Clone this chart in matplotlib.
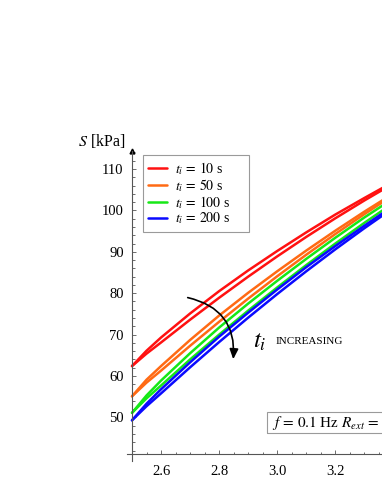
import matplotlib
matplotlib.use("Agg")
import matplotlib.pyplot as plt
from matplotlib.patches import FancyArrowPatch, Rectangle

plt.rcParams['font.family'] = ['Liberation Serif', 'DejaVu Serif']
plt.rcParams['mathtext.fontset'] = 'stix'

# x values shared by all branches
x = [2.5, 2.55, 2.6, 2.7, 2.8, 2.9, 3.0, 3.1, 3.2, 3.3, 3.4]

# each loop: upper and lower branch (kPa)
red_up = [62.4, 66.1, 69.3, 75.1, 80.5, 85.5, 90.2, 94.7, 99.0, 103.0, 106.9]
red_lo = [62.4, 65.4, 68.1, 73.6, 78.9, 84.0, 88.9, 93.6, 98.1, 102.4, 106.5]
orange_up = [55.1, 59.1, 62.4, 68.7, 74.6, 80.1, 85.3, 90.3, 95.1, 99.7, 104.1]
orange_lo = [55.1, 58.4, 61.3, 67.3, 73.1, 78.7, 84.1, 89.3, 94.3, 99.1, 103.7]
green_up = [51.1, 55.3, 58.9, 65.5, 71.7, 77.5, 83.0, 88.3, 93.4, 98.3, 102.9]
green_lo = [51.1, 54.6, 57.7, 64.0, 70.0, 75.8, 81.4, 86.8, 92.0, 97.0, 101.8]
blue_up = [49.3, 53.3, 56.8, 63.3, 69.5, 75.3, 80.9, 86.3, 91.4, 96.3, 101.1]
blue_lo = [49.3, 52.7, 55.8, 62.1, 68.2, 74.1, 79.8, 85.3, 90.6, 95.7, 100.6]

labels = [r"$t_i\,=\,10$ s", r"$t_i\,=\,50$ s", r"$t_i\,=\,100$ s", r"$t_i\,=\,200$ s"]
colors = ["#ff1111", "#ff6a14", "#16e816", "#0a0aff"]
loops = [(red_up, red_lo), (orange_up, orange_lo), (green_up, green_lo), (blue_up, blue_lo)]

xticks = [2.6, 2.8, 3.0, 3.2, 3.4]
yticks = [50, 60, 70, 80, 90, 100, 110]

W, H = 382, 494
fig = plt.figure(figsize=(W / 100, H / 100), dpi=100)

# axes placed in pixels so that the right part runs off the canvas
px_per_x = 290.5  # pixels per unit of x
px_per_y = 4.14   # pixels per kPa
x0, x1 = 2.47, 3.5
y0, y1 = 39.0, 116.0
left_px = 132 - (2.5 - x0) * px_per_x
top_px = 169 - (y1 - 110) * px_per_y
ax = fig.add_axes([left_px / W,
                   1 - (top_px + (y1 - y0) * px_per_y) / H,
                   (x1 - x0) * px_per_x / W,
                   (y1 - y0) * px_per_y / H])
ax.set_xlim(x0, x1)
ax.set_ylim(y0, y1)

for (up, lo), c, lab in zip(loops, colors, labels):
    ax.plot(x, up, color=c, lw=1.8, label=lab, solid_capstyle='round', solid_joinstyle='round')
    ax.plot(x, lo, color=c, lw=1.8, solid_capstyle='round', solid_joinstyle='round')

# Mathematica-like axes crossing at (2.5, 41.1)
for s in ['top', 'right']:
    ax.spines[s].set_visible(False)
ax.spines['left'].set_position(('data', 2.5))
ax.spines['bottom'].set_position(('data', 41.1))
ax.spines['left'].set_bounds(39.5, 114.3)
ax.spines['bottom'].set_bounds(2.484, 3.5)
for s in ['left', 'bottom']:
    ax.spines[s].set_color('#555555')
    ax.spines[s].set_linewidth(0.8)
ax.plot([2.5], [114.3], marker='^', color='black', ms=3.5, clip_on=False)

ax.set_xticks(xticks)
ax.set_xticklabels([f"{v:.1f}" for v in xticks])
ax.set_yticks(yticks)
ax.set_xticks([v / 100 for v in range(250, 351, 5)], minor=True)
ax.set_yticks(list(range(42, 115, 2)), minor=True)
ax.tick_params(which='both', direction='in', color='#555555', width=0.6)
ax.tick_params(which='major', length=3.0, labelsize=10.5)
ax.tick_params(axis='x', which='major', pad=8)
ax.tick_params(axis='y', which='major', pad=6)
ax.tick_params(which='minor', length=1.8)

fig.text(102 / W, 1 - 141 / H, "$S$ [kPa]", fontsize=11.5, ha='center', va='center')

# legend box fixed to the reference frame (143..249 px wide, top at 155 px)
leg = ax.legend(loc='upper left', bbox_to_anchor=(143 / W, 1 - 230 / H, 106 / W, 75 / H),
                bbox_transform=fig.transFigure, borderaxespad=0, mode='expand',
                fancybox=False, framealpha=1, edgecolor='#9a9a9a',
                fontsize=10, handlelength=1.35, handletextpad=0.55,
                labelspacing=0.0, borderpad=0.38)
leg.get_frame().set_linewidth(0.8)

# curved arrow "t_i increasing"
arr = FancyArrowPatch((185 / W, 1 - 297 / H), (233 / W, 1 - 362 / H),
                      transform=fig.transFigure,
                      connectionstyle="arc3,rad=-0.45",
                      arrowstyle="-|>,head_length=6,head_width=2.6",
                      color='black', lw=1.2, zorder=5)
fig.patches.append(arr)
fig.text(260 / W, 1 - 342 / H, "$t_i$", fontsize=18, ha='center', va='center')
fig.text(276 / W, 1 - 342 / H, "INCREASING", fontsize=8, ha='left', va='center')

# parameter box, cut by the right edge
fig.patches.append(Rectangle((267 / W, 1 - 433 / H), 200 / W, 21 / H,
                             transform=fig.transFigure, fill=False,
                             edgecolor='#9a9a9a', lw=0.8))
fig.text(272 / W, 1 - 423 / H, r"$f\,=\,0.1$ Hz $R_{ext}\,=$", fontsize=11,
         ha='left', va='center')

fig.savefig("out.png", dpi=100)
